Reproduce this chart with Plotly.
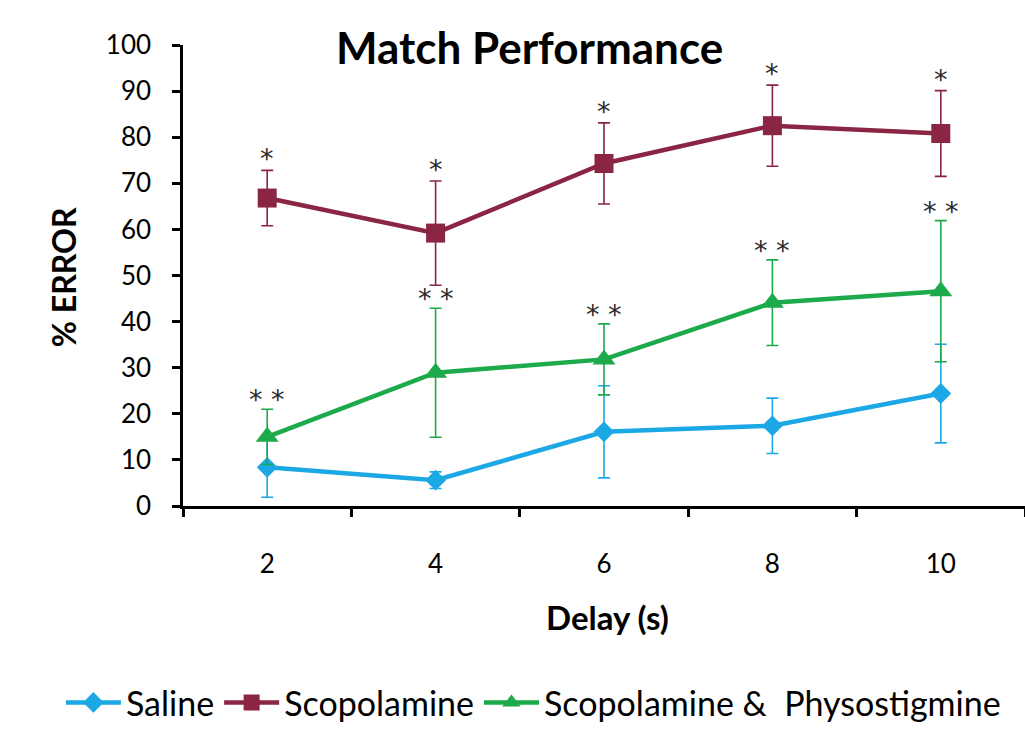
import plotly.graph_objects as go

# Delay values (s) and mean % error with SEM for each treatment group
delays = [2, 4, 6, 8, 10]

saline = [8.4, 5.6, 16.1, 17.4, 24.4]
saline_err = [6.5, 1.8, 10.0, 6.0, 10.7]

scopolamine = [66.8, 59.2, 74.3, 82.5, 80.8]
scopolamine_err = [6.0, 11.3, 8.8, 8.8, 9.3]

scop_physo = [15.0, 28.9, 31.8, 44.1, 46.6]
scop_physo_err = [6.0, 14.0, 7.7, 9.3, 15.3]

series_names = ["Saline", "Scopolamine", "Scopolamine &  Physostigmine"]

BLUE = "#1CA8E4"
MAROON = "#8A2543"
GREEN = "#1DAA4A"
FONT = "Lato"

fig = go.Figure()

traces = [
    (series_names[0], saline, saline_err, BLUE, "diamond", 16),
    (series_names[1], scopolamine, scopolamine_err, MAROON, "square", 19),
    (series_names[2], scop_physo, scop_physo_err, GREEN, "triangle-up", 20),
]
for name, vals, err, color, symbol, size in traces:
    fig.add_trace(go.Scatter(
        x=delays, y=vals, name=name, mode="lines+markers",
        line=dict(color=color, width=4.5),
        marker=dict(symbol=symbol, size=size, color=color),
        error_y=dict(type="data", array=err, visible=True,
                     color=color, thickness=1.6, width=6),
    ))

# significance markers above the upper whiskers
for x, v, e in zip(delays, scopolamine, scopolamine_err):
    fig.add_annotation(x=x, y=v + e, text="*", showarrow=False,
                       yanchor="bottom", yshift=-6,
                       font=dict(family="DejaVu Sans", size=27, color="#2a2a2a"))
for x, v, e in zip(delays, scop_physo, scop_physo_err):
    fig.add_annotation(x=x, y=v + e, text="* *", showarrow=False,
                       yanchor="bottom", yshift=-8,
                       font=dict(family="DejaVu Sans", size=27, color="#2a2a2a"))

# titles
fig.add_annotation(xref="paper", yref="paper", x=0.412, y=0.995,
                   xanchor="center", yanchor="middle",
                   text="<b>Match Performance</b>", showarrow=False,
                   font=dict(family=FONT, size=44, color="black"))
fig.add_annotation(xref="paper", yref="paper", x=-0.141, y=0.497,
                   xanchor="center", yanchor="middle",
                   text="<b>% ERROR</b>", showarrow=False, textangle=-90,
                   font=dict(family=FONT, size=32, color="black"))
fig.add_annotation(xref="paper", yref="paper", x=0.504, y=-0.241,
                   xanchor="center", yanchor="middle",
                   text="<b>Delay (s)</b>", showarrow=False,
                   font=dict(family=FONT, size=33, color="black"))

fig.update_layout(
    width=1025, height=744,
    margin=dict(l=183, r=0, t=45, b=238),
    paper_bgcolor="white", plot_bgcolor="white",
    font=dict(family=FONT, size=26, color="black"),
    showlegend=True,
    legend=dict(orientation="h", xref="paper", yref="paper",
                x=-0.145, y=-0.427, xanchor="left", yanchor="middle",
                font=dict(family=FONT, size=34, color="black"),
                itemwidth=55, tracegroupgap=0),
    xaxis=dict(range=[1, 11], tickvals=delays, ticktext=[str(d) for d in delays],
               ticks="", ticklabelstandoff=33, showline=True, linecolor="black",
               linewidth=2.5, showgrid=False, zeroline=False,
               minor=dict(tickvals=[1, 3, 5, 7, 9, 11], ticks="outside",
                          ticklen=8, tickwidth=2.5, tickcolor="black")),
    yaxis=dict(range=[0, 100], tickvals=list(range(0, 101, 10)), ticks="outside",
               ticklen=8, tickwidth=2.5, tickcolor="black", showline=True,
               linecolor="black", linewidth=2.5, showgrid=False, zeroline=False,
               ticklabelstandoff=16),
)

fig.write_html("out.html")
